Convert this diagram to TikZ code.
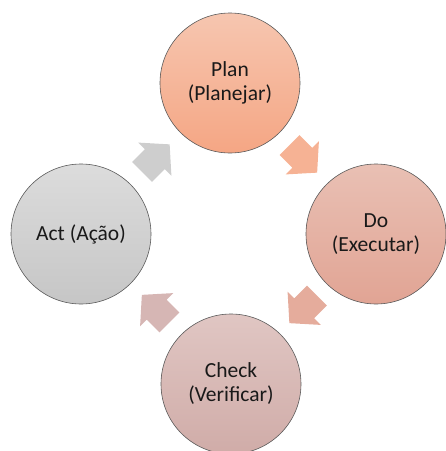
\documentclass[tikz,border=0pt]{standalone}
\usepackage{fontspec}
\setmainfont{Carlito}
\usepackage{tikz}
\usetikzlibrary{calc}
\definecolor{plantop}{RGB}{246,198,176}
\definecolor{planbot}{RGB}{245,166,132}
\definecolor{dotop}{RGB}{233,192,180}
\definecolor{dobot}{RGB}{225,164,148}
\definecolor{checktop}{RGB}{224,198,195}
\definecolor{checkbot}{RGB}{208,172,168}
\definecolor{acttop}{RGB}{220,220,220}
\definecolor{actbot}{RGB}{198,198,198}
\definecolor{arrowplan}{RGB}{246,178,148}
\definecolor{arrowdo}{RGB}{229,172,156}
\definecolor{arrowcheck}{RGB}{214,182,180}
\definecolor{arrowact}{RGB}{206,206,206}
\newcommand{\cyclearrow}[3]{
	\begin{scope}[shift={#1},rotate=#2]
	\fill[#3] (-19,-14) -- (-1,-14) -- (-1,-23.5) -- (20,0) -- (-1,23.5) -- (-1,14) -- (-19,14) -- cycle;
	\end{scope}
}
\tikzset{
	phase/.style={circle, draw=black!65, line width=0.6pt, minimum size=140, inner sep=0pt,
		align=center, text=black!90, font=\fontsize{21.5}{24}\selectfont}
}

\begin{document}
\begin{tikzpicture}[x=1pt,y=-1pt]
	\useasboundingbox (0,0) rectangle (446,451);

	\node[phase, top color=plantop, bottom color=planbot] (plan) at (230,83) {Plan\\(Planejar)};
	\node[phase, top color=dotop, bottom color=dobot] (do) at (376,234) {Do\\(Executar)};
	\node[phase, top color=checktop, bottom color=checkbot] (check) at (231,384) {Check\\(Verificar)};
	\node[phase, top color=acttop, bottom color=actbot] (act) at (81,234) {Act (Ação)};

	\cyclearrow{($(plan)!0.5!(do)$)}{-45}{arrowplan}
	\cyclearrow{($(do)!0.5!(check)$)}{-135}{arrowdo}
	\cyclearrow{($(check)!0.5!(act)$)}{135}{arrowcheck}
	\cyclearrow{($(act)!0.5!(plan)$)}{45}{arrowact}

\end{tikzpicture}
\end{document}
